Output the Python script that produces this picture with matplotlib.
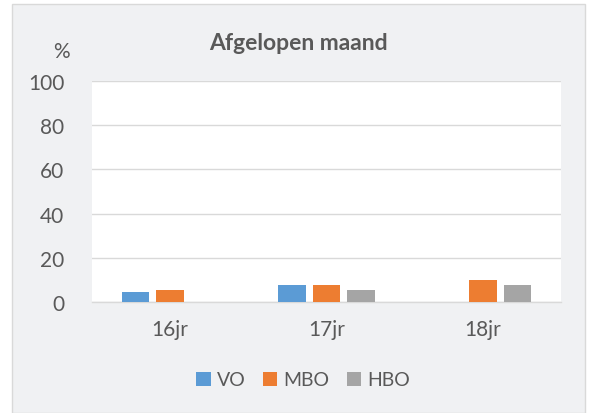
import matplotlib
matplotlib.use("Agg")
import matplotlib.pyplot as plt
import numpy as np
from matplotlib.patches import Rectangle

categories = ["16jr", "17jr", "18jr"]
series_names = ["VO", "MBO", "HBO"]
vo = [4.3, 7.9, 0]
mbo = [5.6, 7.7, 9.8]
hbo = [0, 5.6, 7.5]
yticks = [0, 20, 40, 60, 80, 100]
colors = ["#5b9bd5", "#ed7d31", "#a5a5a5"]

plt.rcParams['font.family'] = ['Lato', 'DejaVu Sans']
W, H = 590, 414
fig = plt.figure(figsize=(W/100, H/100), dpi=100)
fig.patch.set_facecolor("white")
bg = Rectangle((12/W, 0), (585-12)/W, (H-5)/H, transform=fig.transFigure,
               facecolor="#f0f1f3", edgecolor="#d9d9d9", linewidth=1.0, zorder=-10)
fig.patches.append(bg)

ax = fig.add_axes([92/W, 1-303/H, (561-92)/W, (303-82)/H])
ax.set_zorder(5)
ax.set_facecolor("white")
x = np.arange(len(categories))
bw = 0.176
off = 0.222
for i, (vals, c, name) in enumerate(zip([vo, mbo, hbo], colors, series_names)):
    ax.bar(x + (i-1)*off, vals, width=bw, color=c, label=name, zorder=3)
ax.set_xlim(-0.5, 2.5)
ax.set_ylim(0, 100)
ax.set_yticks(yticks)
ax.set_xticks(x)
ax.set_xticklabels(categories)
ax.grid(axis="y", color="#d9d9d9", linewidth=1.0, zorder=0)
for s in ["top", "right", "left"]:
    ax.spines[s].set_visible(False)
ax.spines["bottom"].set_color("#d9d9d9")
ax.spines["bottom"].set_linewidth(1.0)
ax.tick_params(axis="both", length=0, colors="#595959", labelsize=15)
ax.tick_params(axis="y", pad=20)
ax.tick_params(axis="x", pad=12)

fig.text(298/W, 1-44/H, "Afgelopen maand", ha="center", va="center",
         fontsize=16.5, fontweight="bold", color="#595959")
fig.text(61/W, 1-52/H, "%", ha="center", va="center", fontsize=15, color="#595959")

leg = fig.legend(loc="center", bbox_to_anchor=(303/W, 1-381/H), ncol=3, frameon=False,
                 fontsize=14, handlelength=0.75, handleheight=0.75, handletextpad=0.3,
                 columnspacing=0.9, labelcolor="#595959")

fig.savefig("out.png", dpi=100)
